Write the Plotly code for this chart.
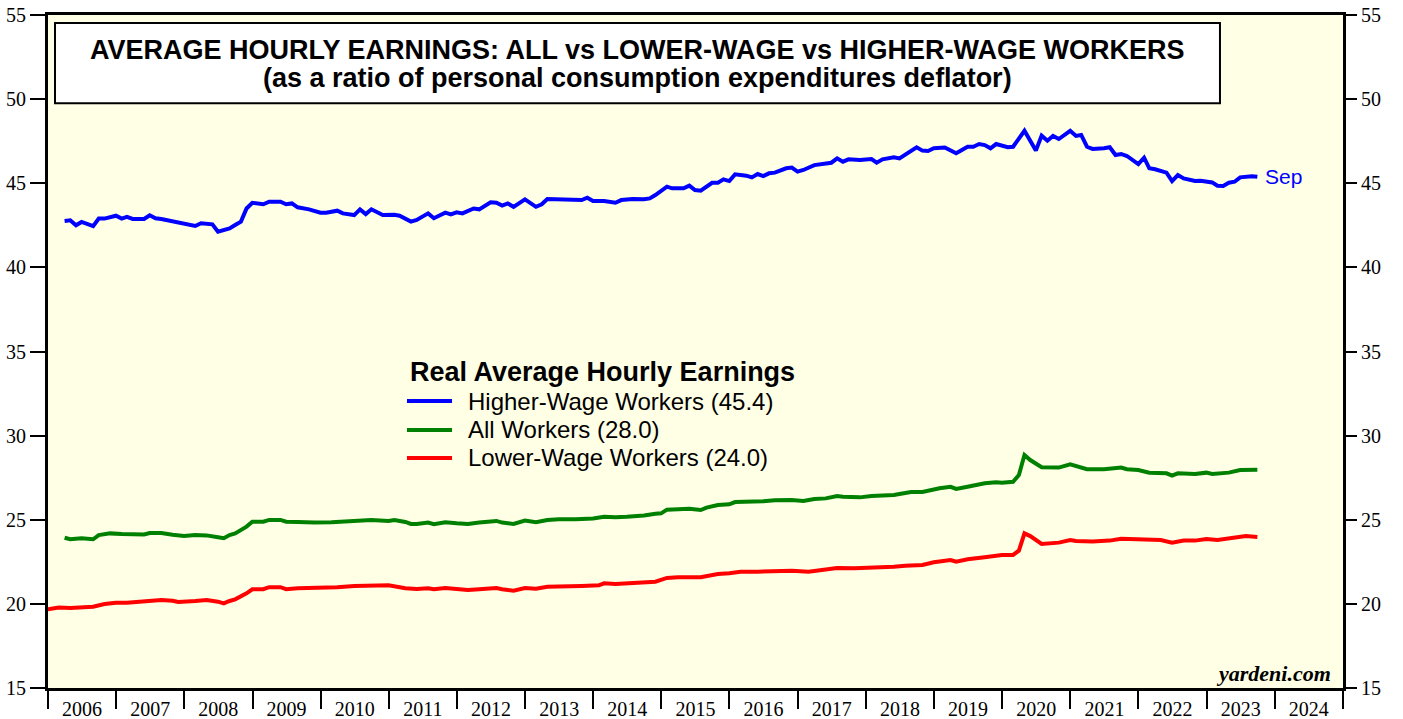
import pandas as pd
import plotly.graph_objects as go

# ---- data (month labels) ----
higher_months = ["2006-03","2006-04","2006-05","2006-06","2006-08","2006-09","2006-10","2006-12",
 "2007-01","2007-02","2007-03","2007-05","2007-06","2007-07","2007-08","2007-11","2007-12",
 "2008-02","2008-03","2008-05","2008-06","2008-08","2008-09","2008-10","2008-11","2008-12",
 "2009-02","2009-03","2009-05","2009-06","2009-07","2009-08","2009-10","2009-12",
 "2010-01","2010-03","2010-04","2010-06","2010-07","2010-08","2010-09","2010-11",
 "2011-01","2011-02","2011-04","2011-05","2011-07","2011-08","2011-10","2011-11","2011-12",
 "2012-01","2012-03","2012-04","2012-06","2012-07","2012-08","2012-09","2012-10","2012-12",
 "2013-02","2013-03","2013-04","2013-07","2013-10","2013-11","2013-12",
 "2014-02","2014-04","2014-05","2014-07","2014-09","2014-10","2014-11",
 "2015-01","2015-02","2015-04","2015-05","2015-06","2015-07","2015-09","2015-10","2015-11","2015-12",
 "2016-01","2016-03","2016-04","2016-05","2016-06","2016-07","2016-08","2016-10","2016-11","2016-12",
 "2017-01","2017-03","2017-04","2017-06","2017-07","2017-08","2017-09","2017-11",
 "2018-01","2018-02","2018-03","2018-05","2018-06","2018-07","2018-09","2018-10","2018-11","2018-12",
 "2019-02","2019-04","2019-05","2019-06","2019-07","2019-08","2019-09","2019-10","2019-11","2019-12",
 "2020-01","2020-02","2020-04","2020-06","2020-07","2020-08","2020-09","2020-10","2020-12",
 "2021-01","2021-02","2021-03","2021-04","2021-06","2021-07","2021-08","2021-09","2021-10","2021-12",
 "2022-01","2022-02","2022-03","2022-05","2022-06","2022-07","2022-08","2022-10","2022-11",
 "2023-01","2023-02","2023-03","2023-04","2023-05","2023-06","2023-07","2023-08","2023-09"]
higher_vals = [42.76,42.80,42.50,42.70,42.45,42.90,42.90,43.07,
 42.90,43.00,42.88,42.88,43.10,42.92,42.88,42.68,42.62,
 42.46,42.62,42.56,42.12,42.32,42.52,42.72,43.50,43.84,
 43.75,43.90,43.90,43.75,43.80,43.57,43.45,43.25,
 43.25,43.37,43.21,43.11,43.45,43.17,43.45,43.11,
 43.13,43.07,42.72,42.82,43.21,42.92,43.25,43.15,43.27,
 43.21,43.50,43.45,43.87,43.84,43.67,43.80,43.60,44.04,
 43.60,43.75,44.06,44.04,44.00,44.14,43.94,
 43.94,43.84,44.00,44.06,44.05,44.10,44.30,
 44.80,44.70,44.70,44.86,44.60,44.56,45.03,45.03,45.23,45.13,
 45.53,45.45,45.35,45.55,45.43,45.59,45.63,45.89,45.93,45.69,
 45.79,46.08,46.14,46.22,46.48,46.28,46.42,46.38,
 46.44,46.22,46.42,46.54,46.48,46.72,47.14,46.94,46.92,47.08,
 47.12,46.78,46.98,47.17,47.17,47.33,47.27,47.08,47.33,47.23,
 47.14,47.17,48.12,46.94,47.83,47.53,47.81,47.63,48.12,
 47.81,47.87,47.17,47.04,47.08,47.14,46.68,46.74,46.62,46.14,
 46.52,45.89,45.83,45.63,45.13,45.49,45.29,45.13,45.15,
 45.05,44.85,44.84,45.03,45.09,45.35,45.39,45.42,45.38]

all_months = ["2006-03","2006-04","2006-06","2006-08","2006-09","2006-11",
 "2007-01","2007-03","2007-05","2007-06","2007-08","2007-10","2007-12",
 "2008-02","2008-04","2008-06","2008-07","2008-08","2008-09","2008-11","2008-12",
 "2009-02","2009-03","2009-05","2009-06","2009-08","2009-11",
 "2010-02","2010-06","2010-09","2010-12",
 "2011-01","2011-03","2011-04","2011-05","2011-07","2011-08","2011-10","2011-12",
 "2012-02","2012-04","2012-07","2012-08","2012-10","2012-12",
 "2013-02","2013-04","2013-06","2013-09","2013-12",
 "2014-02","2014-04","2014-06","2014-09","2014-11","2014-12",
 "2015-01","2015-03","2015-05","2015-07","2015-08","2015-10","2015-12",
 "2016-01","2016-04","2016-06","2016-08","2016-11",
 "2017-01","2017-03","2017-05","2017-07","2017-08","2017-11",
 "2018-01","2018-03","2018-05","2018-06","2018-08","2018-10","2018-12",
 "2019-01","2019-03","2019-04","2019-06","2019-08","2019-09","2019-11","2019-12",
 "2020-02","2020-03","2020-04","2020-05","2020-07","2020-10","2020-12",
 "2021-01","2021-03","2021-06","2021-09","2021-10","2021-12",
 "2022-02","2022-05","2022-06","2022-07","2022-10","2022-12",
 "2023-01","2023-04","2023-06","2023-09"]
all_vals = [23.93,23.84,23.90,23.84,24.09,24.19,
 24.15,24.13,24.13,24.21,24.21,24.11,24.03,
 24.09,24.07,23.96,23.90,24.09,24.19,24.59,24.88,
 24.88,24.99,24.99,24.88,24.87,24.83,
 24.85,24.93,24.99,24.93,
 24.99,24.87,24.75,24.75,24.83,24.73,24.85,24.79,
 24.75,24.83,24.93,24.83,24.75,24.95,
 24.85,24.99,25.03,25.03,25.08,
 25.18,25.15,25.18,25.25,25.36,25.38,
 25.60,25.64,25.66,25.58,25.72,25.88,25.92,
 26.05,26.07,26.10,26.16,26.17,
 26.11,26.23,26.27,26.41,26.37,26.33,
 26.41,26.43,26.47,26.53,26.65,26.65,26.81,
 26.87,26.96,26.83,26.96,27.10,27.17,27.23,27.20,
 27.26,27.66,28.85,28.55,28.12,28.10,28.30,
 28.20,28.00,28.00,28.10,28.00,27.96,
 27.80,27.76,27.62,27.76,27.72,27.80,
 27.72,27.80,27.96,27.97]

lower_months = ["2005-12","2006-02","2006-04","2006-06","2006-08","2006-10","2006-12",
 "2007-02","2007-05","2007-08","2007-10","2007-11",
 "2008-02","2008-04","2008-06","2008-07","2008-08","2008-09","2008-11","2008-12",
 "2009-02","2009-03","2009-05","2009-06","2009-08","2009-12",
 "2010-03","2010-06","2010-10","2010-12",
 "2011-03","2011-05","2011-07","2011-08","2011-10","2011-12",
 "2012-02","2012-04","2012-07","2012-08","2012-10","2012-12",
 "2013-02","2013-04","2013-06","2013-10",
 "2014-01","2014-02","2014-04","2014-07","2014-09","2014-11",
 "2015-01","2015-03","2015-07","2015-08","2015-10","2015-12",
 "2016-02","2016-05","2016-08","2016-11",
 "2017-02","2017-04","2017-07","2017-10",
 "2018-02","2018-05","2018-07","2018-10","2018-12",
 "2019-03","2019-04","2019-06","2019-09","2019-11","2019-12",
 "2020-02","2020-03","2020-04","2020-05","2020-07","2020-09","2020-10","2020-12",
 "2021-01","2021-04","2021-07","2021-09","2021-12",
 "2022-03","2022-04","2022-06","2022-08","2022-10","2022-12",
 "2023-02","2023-05","2023-07","2023-09"]
lower_vals = [19.68,19.78,19.76,19.80,19.83,19.99,20.07,
 20.07,20.13,20.23,20.19,20.11,
 20.17,20.23,20.13,20.03,20.17,20.27,20.63,20.87,
 20.87,20.99,20.99,20.87,20.93,20.94,
 20.99,21.06,21.10,21.10,
 20.93,20.88,20.93,20.87,20.94,20.90,
 20.82,20.87,20.94,20.87,20.78,20.94,
 20.90,21.02,21.02,21.06,
 21.10,21.22,21.18,21.22,21.26,21.32,
 21.54,21.58,21.58,21.66,21.78,21.82,
 21.91,21.91,21.95,21.97,
 21.91,22.01,22.13,22.11,
 22.15,22.21,22.27,22.31,22.47,
 22.61,22.51,22.65,22.77,22.85,22.91,
 22.91,23.16,24.19,24.03,23.56,23.60,23.64,23.80,
 23.74,23.70,23.76,23.87,23.84,
 23.76,23.80,23.64,23.76,23.76,23.86,
 23.80,23.92,24.03,23.98]

series_names = ["Higher-Wage Workers (45.4)", "All Workers (28.0)", "Lower-Wage Workers (24.0)"]
series_colors = ["#0000FF", "#008000", "#FF0000"]
y_ticks = [15, 20, 25, 30, 35, 40, 45, 50, 55]

title_line1 = "AVERAGE HOURLY EARNINGS: ALL vs LOWER-WAGE vs HIGHER-WAGE WORKERS"
title_line2 = "(as a ratio of personal consumption expenditures deflator)"
legend_title = "Real Average Hourly Earnings"


def month_end(labels):
    return pd.to_datetime(labels, format="%Y-%m") + pd.offsets.MonthEnd(0)


SANS = "Arial, Liberation Sans, sans-serif"
SERIF = "Times New Roman, Liberation Serif, serif"

fig = go.Figure()
for months, vals, name, color in zip(
        [higher_months, all_months, lower_months],
        [higher_vals, all_vals, lower_vals],
        series_names, series_colors):
    fig.add_trace(go.Scatter(x=month_end(months), y=vals, mode="lines", name=name,
                             line=dict(color=color, width=4), hoverinfo="x+y",
                             showlegend=False))

last_x = month_end(higher_months)[-1]
# invisible anchor so the right-hand value axis is drawn
fig.add_trace(go.Scatter(x=[last_x], y=[higher_vals[-1]], yaxis="y2", mode="markers",
                         marker=dict(opacity=0), hoverinfo="skip", showlegend=False))

fig.add_annotation(x=last_x, y=higher_vals[-1], xref="x", yref="y", text="Sep",
                   showarrow=False, xanchor="left", yanchor="middle", xshift=6,
                   font=dict(family=SANS, size=21, color="#0000FF"))

# title box
fig.add_shape(type="rect", xref="paper", yref="paper", x0=0.0054, x1=0.905, y0=0.869, y1=0.988,
              line=dict(color="black", width=2), fillcolor="white", layer="above")
fig.add_annotation(xref="paper", yref="paper", x=0.455, y=0.948, text="<b>%s</b>" % title_line1,
                   showarrow=False, xanchor="center", yanchor="middle",
                   font=dict(family=SANS, size=27, color="black"))
fig.add_annotation(xref="paper", yref="paper", x=0.455, y=0.906, text="<b>%s</b>" % title_line2,
                   showarrow=False, xanchor="center", yanchor="middle",
                   font=dict(family=SANS, size=27, color="black"))

# legend block (drawn as text + key lines, placed like the original)
fig.add_annotation(xref="paper", yref="paper", x=0.278, y=0.4695, text="<b>%s</b>" % legend_title,
                   showarrow=False, xanchor="left", yanchor="middle",
                   font=dict(family=SANS, size=27, color="black"))
legend_rows_y = [0.4264, 0.3834, 0.3418]
for name, color, ly in zip(series_names, series_colors, legend_rows_y):
    fig.add_shape(type="line", xref="paper", yref="paper", x0=0.2772, x1=0.3120, y0=ly, y1=ly,
                  line=dict(color=color, width=4))
    fig.add_annotation(xref="paper", yref="paper", x=0.3228, y=ly, text=name,
                       showarrow=False, xanchor="left", yanchor="middle",
                       font=dict(family=SANS, size=24, color="black"))

fig.add_annotation(xref="paper", yref="paper", x=0.992, y=0.022, text="<b><i>yardeni.com</i></b>",
                   showarrow=False, xanchor="right", yanchor="middle",
                   font=dict(family=SERIF, size=22, color="black"))

fig.update_layout(
    width=1403, height=719,
    margin=dict(l=48, r=60, t=15, b=31, autoexpand=False),
    paper_bgcolor="white", plot_bgcolor="#FFFFE6",
    showlegend=False,
    xaxis=dict(type="date", range=["2006-01-01", "2025-01-01"], tick0="2006-01-01", dtick="M12",
               ticklabelmode="period", tickformat="%Y", ticks="outside", ticklen=18, tickwidth=2,
               tickcolor="black", showgrid=False, zeroline=False, showline=True, linewidth=3,
               linecolor="black", mirror=True, ticklabelstandoff=-17, automargin=False,
               tickfont=dict(family=SERIF, size=20, color="black")),
    yaxis=dict(range=[15, 55], tickvals=y_ticks, ticks="outside", ticklen=15, tickwidth=2,
               tickcolor="black", showgrid=False, zeroline=False, showline=True, linewidth=3,
               linecolor="black", mirror=True, automargin=False,
               tickfont=dict(family=SERIF, size=20, color="black")),
    yaxis2=dict(range=[15, 55], tickvals=y_ticks, overlaying="y", side="right", anchor="x",
                ticks="outside", ticklen=13, tickwidth=2, tickcolor="black", showgrid=False,
                zeroline=False, showline=False, automargin=False,
                tickfont=dict(family=SERIF, size=20, color="black")),
)

fig.write_html("out.html", config={"displayModeBar": False},
               post_script="document.body.style.margin='0';document.body.style.overflow='hidden';")
